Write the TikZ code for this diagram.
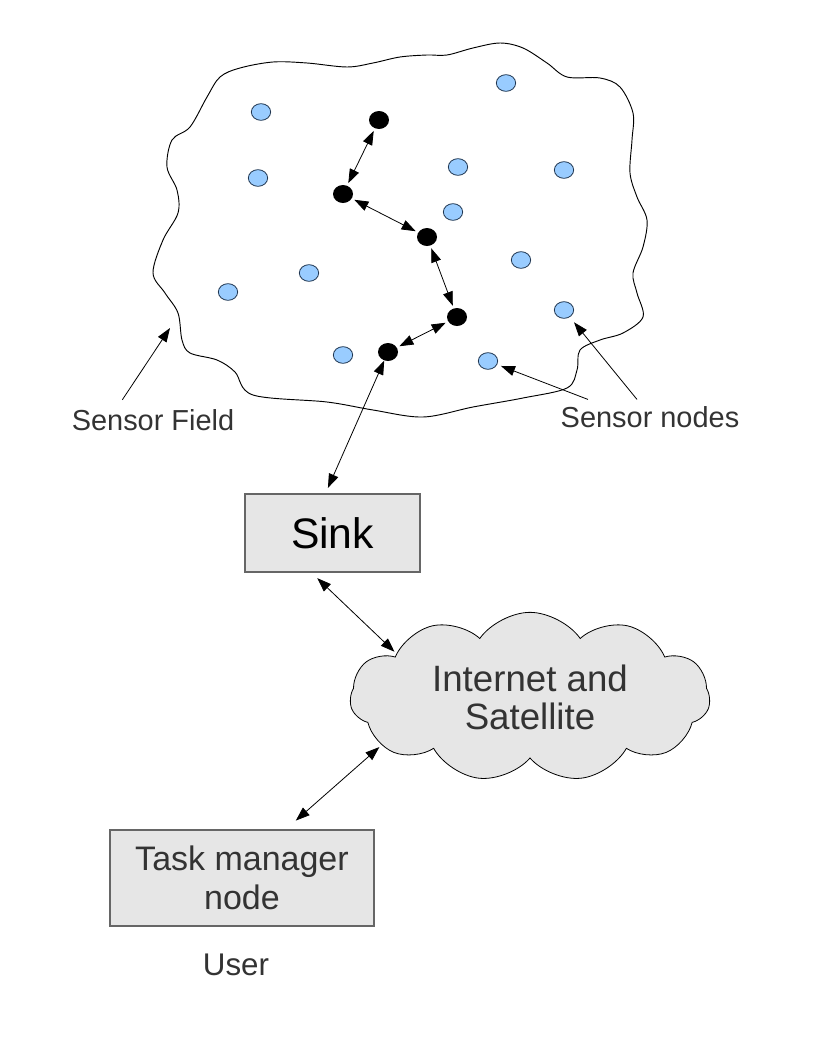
\documentclass[tikz,border=0pt]{standalone}
\usepackage{fontspec}
\setmainfont{Liberation Sans}
\usetikzlibrary{arrows.meta,shapes.geometric,shapes.symbols}
\definecolor{boxgray}{HTML}{E6E6E6}
\definecolor{boxline}{HTML}{666666}
\definecolor{nodeblue}{HTML}{99CCFF}
\definecolor{nodeline}{HTML}{1F3550}
\definecolor{textgray}{HTML}{333333}
\begin{document}
\begin{tikzpicture}[x=0.75pt,y=-0.75pt,
  >={Triangle[length=10.5pt,width=7.5pt]},
  link/.style={<->, line width=0.6pt},
  pointer/.style={->, line width=0.6pt},
  sensor/.style={draw=nodeline, fill=nodeblue, ellipse, line width=0.6pt, minimum width=14.5pt, minimum height=12.5pt, inner sep=0pt},
  relay/.style={fill=black, ellipse, minimum width=15pt, minimum height=13.5pt, inner sep=0pt},
  box/.style={draw=boxline, fill=boxgray, rectangle, line width=0.9pt, align=center},
  fieldtext/.style={text=textgray, inner sep=2pt}
]
\useasboundingbox (0,0) rectangle (816,1056);
\draw[line width=0.7pt] plot[smooth cycle, tension=0.55] coordinates {
  (153,273) (163,240) (178,213) (177,190) (167,167) (172,140) (190,127) (207,97)
  (220,77) (240,68) (273,62) (307,63) (347,67) (373,63) (400,57) (427,55)
  (447,55) (473,48) (500,43) (523,48) (547,63) (567,77) (600,78) (620,87)
  (633,113) (632,140) (630,173) (637,197) (647,220) (643,247) (633,273) (637,293)
  (643,317) (623,333) (600,340) (580,350) (577,370) (567,388) (523,398) (473,407)
  (423,417) (373,410) (327,402) (253,395) (235,372) (217,360) (190,353) (182,340)
  (178,313) (165,293)};
\node[sensor] (s1) at (261,112) {};
\node[sensor] (s2) at (506,83) {};
\node[sensor] (s3) at (258,178) {};
\node[sensor] (s4) at (458,167) {};
\node[sensor] (s5) at (564,170) {};
\node[sensor] (s6) at (453,212) {};
\node[sensor] (s7) at (521,260) {};
\node[sensor] (s8) at (309,273) {};
\node[sensor] (s9) at (228,292) {};
\node[sensor] (s10) at (564,310) {};
\node[sensor] (s11) at (343,355) {};
\node[sensor] (s12) at (488,361) {};
\node[relay] (r1) at (379,120) {};
\node[relay] (r2) at (343,194) {};
\node[relay] (r3) at (427,237) {};
\node[relay] (r4) at (457,317) {};
\node[relay] (r5) at (388,352) {};
\draw[link, shorten <=2pt, shorten >=2pt] (r1) -- (r2);
\draw[link, shorten <=2pt, shorten >=2pt] (r2) -- (r3);
\draw[link, shorten <=2pt, shorten >=2pt] (r3) -- (r4);
\draw[link, shorten <=2pt, shorten >=2pt] (r4) -- (r5);
\node[box, minimum width=131.25pt, minimum height=58.5pt, font=\fontsize{32}{36}\selectfont] (sink) at (332.5,533) {Sink};
\node[cloud, cloud puffs=11, cloud puff arc=110, cloud ignores aspect, draw, line width=0.6pt, fill=boxgray, minimum width=270pt, minimum height=127pt, inner sep=0pt, text=textgray, align=center, font=\fontsize{27.5}{28.5}\selectfont] (net) at (530,697) {Internet and\\Satellite};
\node[box, minimum width=198pt, minimum height=72pt, text=textgray, font=\fontsize{25.5}{29}\selectfont] (task) at (242,878) {Task manager\\node};
\node[fieldtext, font=\fontsize{23.5}{28}\selectfont] (user) at (236,965) {User};
\node[fieldtext, font=\fontsize{21.7}{26}\selectfont] (flabel) at (153,420) {Sensor Field};
\node[fieldtext, font=\fontsize{21.7}{26}\selectfont] (nlabel) at (650,417) {Sensor nodes};
\coordinate (fieldtip) at (170,328);
\draw[link, shorten <=4.5pt] (sink.100) -- (r5);
\draw[link, shorten <=6pt, shorten >=2pt] (sink.242) -- (net.162);
\draw[link, shorten <=10pt, shorten >=2pt] (task.48) -- (net.198);
\draw[pointer] ([xshift=-23pt,yshift=5pt]flabel.north) -- (fieldtip);
\draw[pointer, shorten >=3pt] ([xshift=-46.5pt,yshift=3pt]nlabel.north) -- (s12);
\draw[pointer, shorten >=5pt] ([xshift=-9.75pt,yshift=3pt]nlabel.north) -- (s10);
\end{tikzpicture}
\end{document}
